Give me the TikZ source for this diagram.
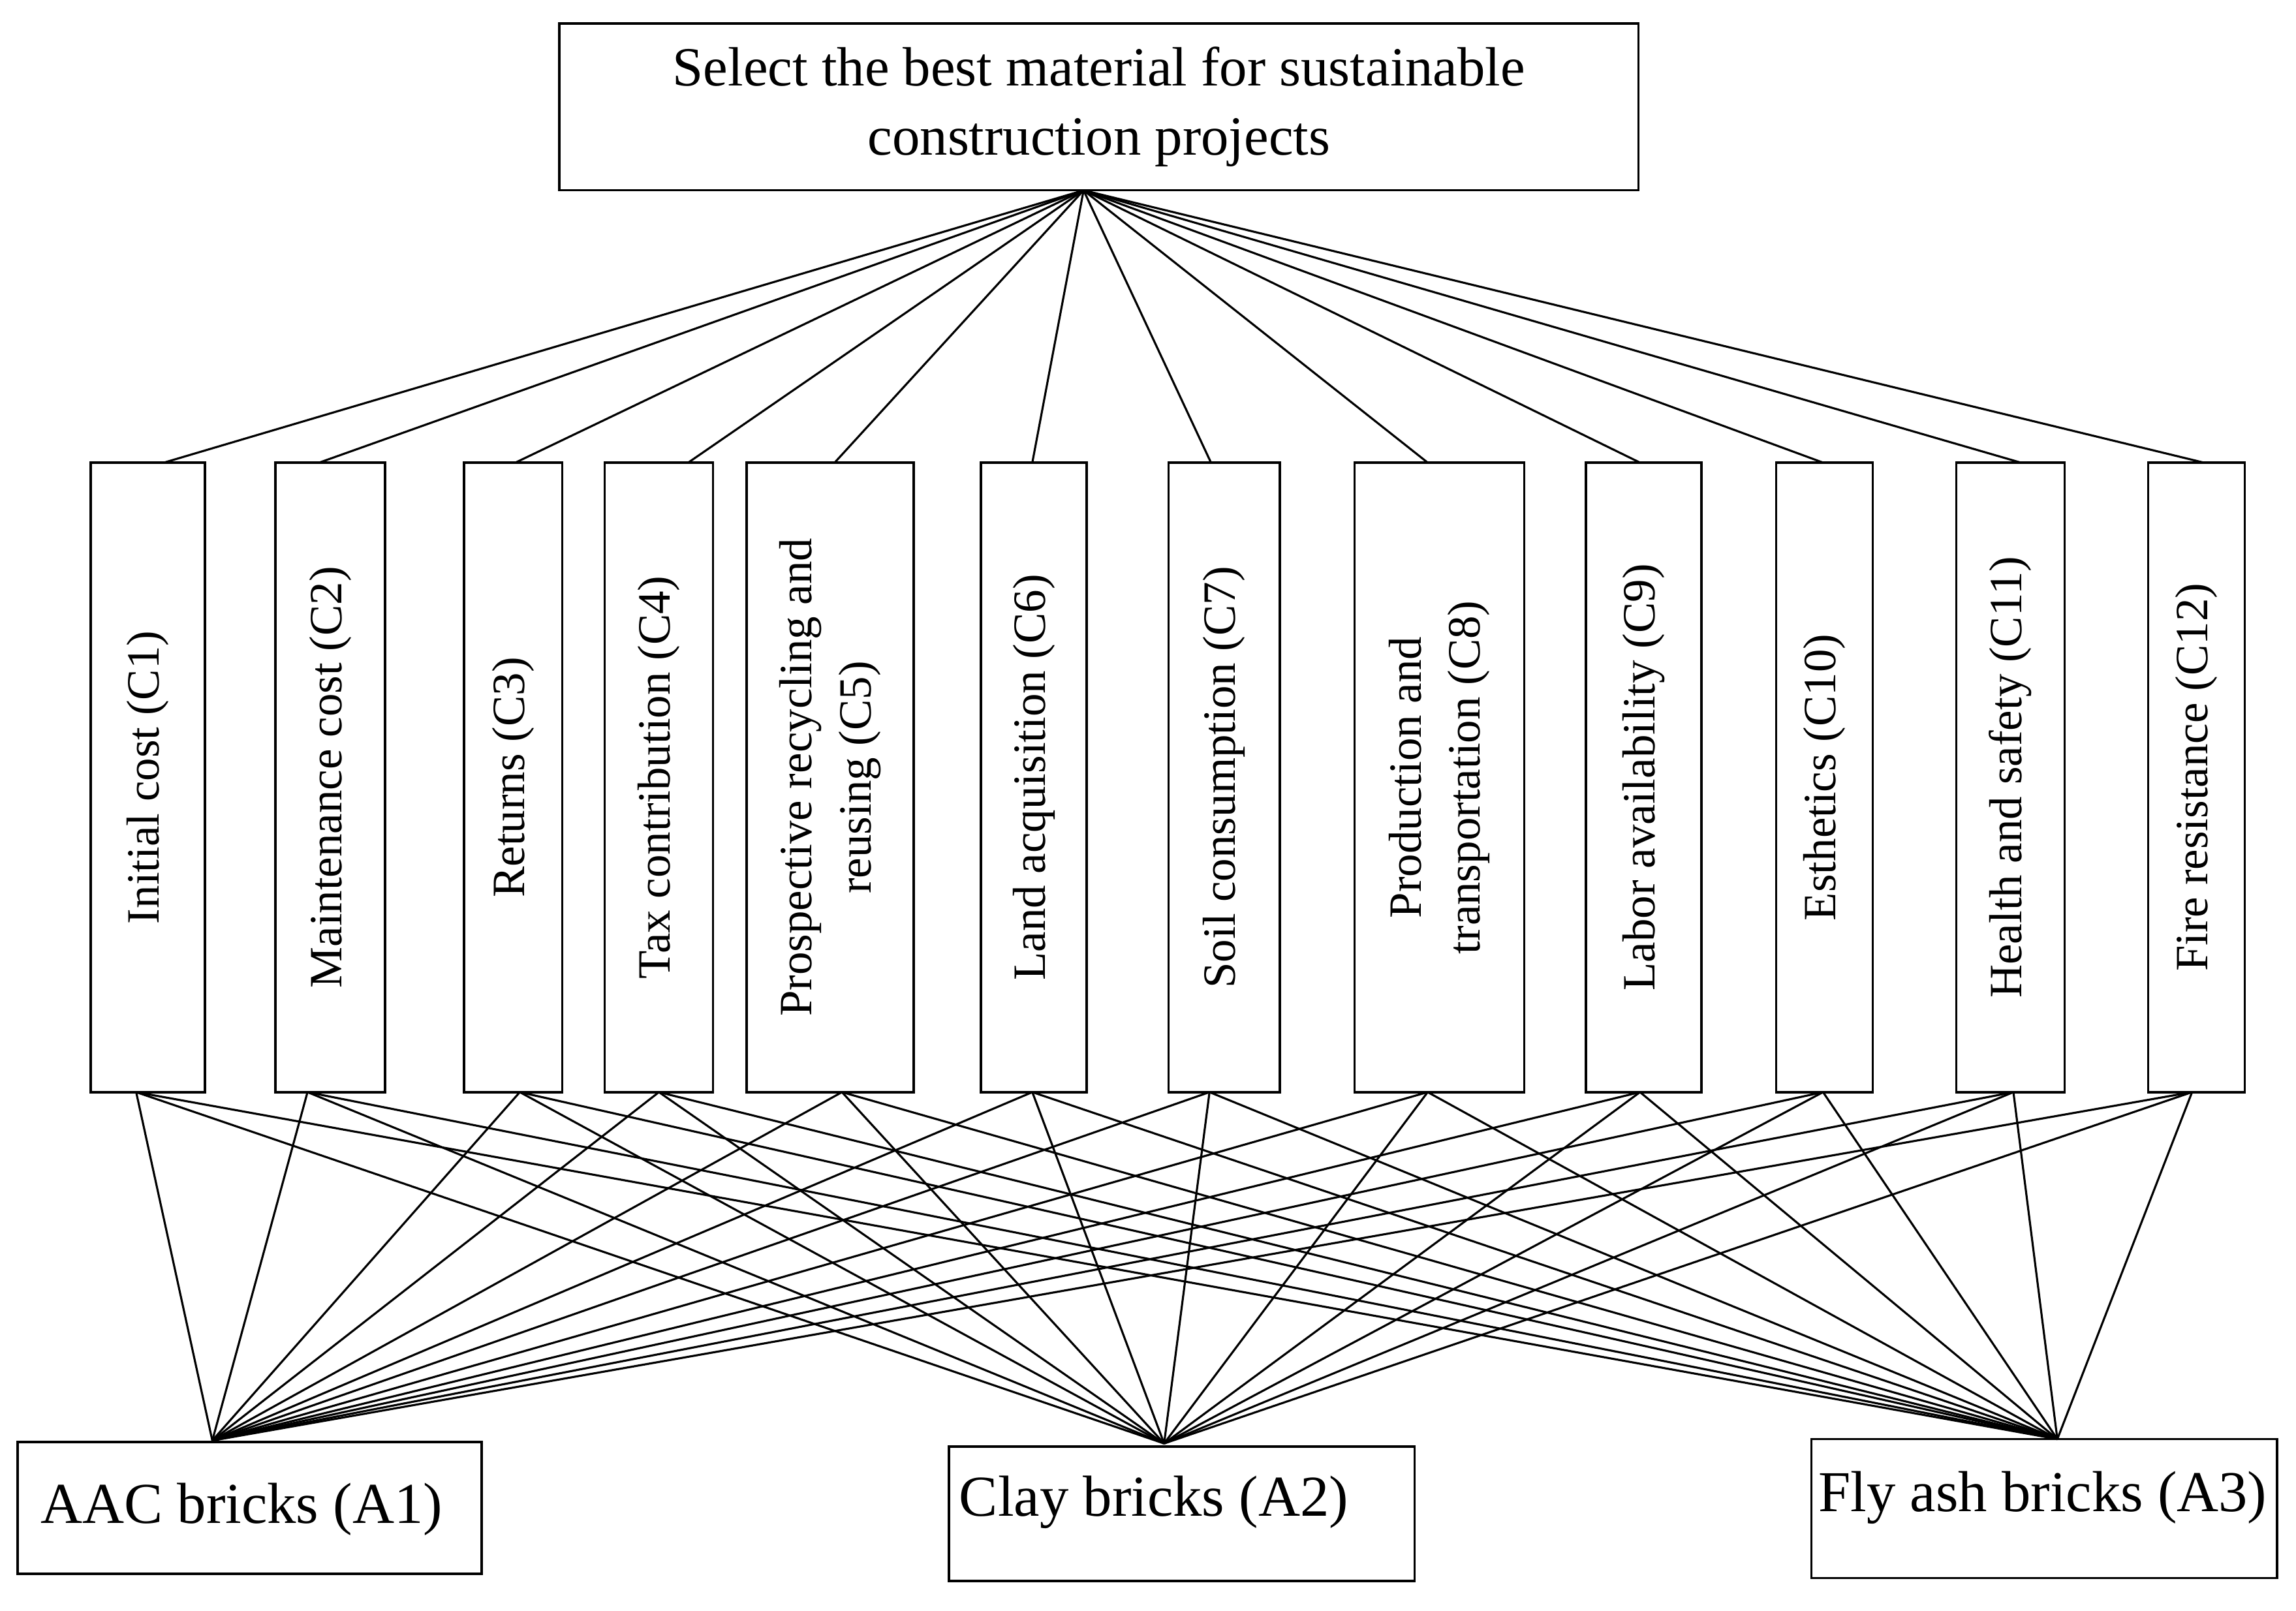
\documentclass[tikz,border=0pt]{standalone}
\usepackage{fontspec}
\setmainfont{Liberation Serif}
\begin{document}
\begin{tikzpicture}[x=0.02cm,y=-0.02cm,
  box/.style={draw,line width=0.9pt,inner sep=0pt,align=center},
  ln/.style={line width=0.8pt}]
\useasboundingbox (0,0) rectangle (1568,1100);
\node[box,minimum width=737*0.02cm,minimum height=114*0.02cm,font=\fontsize{21.5}{27}\selectfont] (goal) at (750.5,73) {Select the best material for sustainable\\construction projects};
\coordinate (g) at (740,130);
\foreach \n/\l/\r/\tp/\bt/\txt in {
 1/62/140/112/93/{Initial cost (C1)},
 2/188/263/218/210/{Maintenance cost (C2)},
 3/317/384/352/355/{Returns (C3)},
 4/413/487/470/450/{Tax contribution (C4)},
 5/510/624/570/575/{Prospective recycling and\\reusing (C5)},
 6/670/742/705/705/{Land acquisition (C6)},
 7/798/874/827/826/{Soil consumption (C7)},
 8/925/1041/975/975/{Production and\\transportation (C8)},
 9/1083/1162/1120/1120/{Labor availability (C9)},
 10/1213/1279/1245/1245/{Esthetics (C10)},
 11/1336/1410/1380/1375/{Health and safety (C11)},
 12/1467/1533/1505/1497/{Fire resistance (C12)}}{
  \draw[line width=0.9pt] (\l,316) rectangle (\r,746);
  \node[font=\fontsize{18}{23}\selectfont,align=center,rotate=90] (c\n) at ({(\l+\r)/2},531) {\txt};
  \coordinate (ct\n) at (\tp,316);
  \coordinate (cb\n) at (\bt,746);
  \draw[ln] (g) -- (ct\n);
}
\node[box,minimum width=317*0.02cm,minimum height=90*0.02cm] (a1) at (170.5,1030) {};
\node[font=\fontsize{22.5}{27}\selectfont] (a1t) at (165,1031) {AAC bricks (A1)};
\node[box,minimum width=318*0.02cm,minimum height=92*0.02cm] (a2) at (807,1034) {};
\node[font=\fontsize{22.5}{27}\selectfont] (a2t) at (788,1026) {Clay bricks (A2)};
\node[box,minimum width=318*0.02cm,minimum height=95*0.02cm] (a3) at (1396,1030.5) {};
\node[font=\fontsize{22.5}{27}\selectfont] (a3t) at (1395,1023) {Fly ash bricks (A3)};
\coordinate (p1) at (145,984);
\coordinate (p2) at (795,986);
\coordinate (p3) at (1405,983);
\foreach \n in {1,...,12}{
  \foreach \a in {1,2,3}{ \draw[ln] (cb\n) -- (p\a); }
}
\end{tikzpicture}
\end{document}
